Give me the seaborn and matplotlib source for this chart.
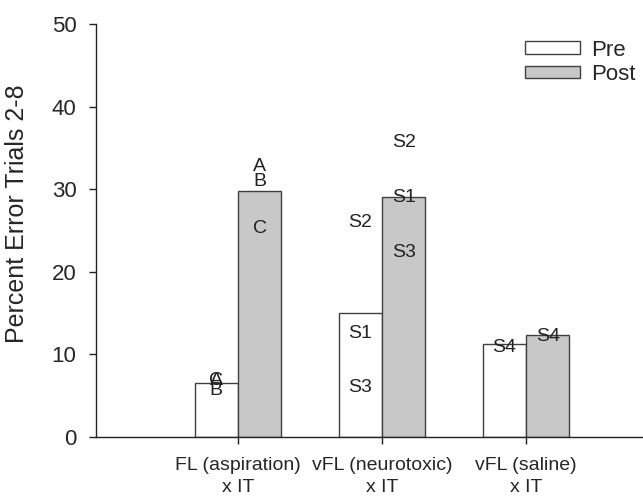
import pandas as pd
import matplotlib
matplotlib.use('Agg')
import matplotlib.pyplot as plt
import seaborn as sns

# Bar values
groups = ['FL (aspiration)\nx IT', 'vFL (neurotoxic)\nx IT', 'vFL (saline)\nx IT']
phases = ['Pre', 'Post']
pre_values = [6.5, 15.0, 11.3]
post_values = [29.8, 29.1, 12.4]

# Subject labels written over the bars
label_group = [0, 0, 0, 0, 0, 0, 1, 1, 1, 1, 1, 1, 2, 2]
label_phase = ['Pre', 'Pre', 'Pre', 'Post', 'Post', 'Post',
               'Pre', 'Pre', 'Pre', 'Post', 'Post', 'Post', 'Pre', 'Post']
label_value = [6.9, 6.9, 5.6, 32.7, 30.9, 25.3,
               26.0, 12.6, 6.05, 35.7, 29.0, 22.4, 10.9, 12.2]
label_text = ['C', 'A', 'B', 'A', 'B', 'C',
              'S2', 'S1', 'S3', 'S2', 'S1', 'S3', 'S4', 'S4']

df = pd.DataFrame({
    'group': groups * 2,
    'phase': ['Pre'] * 3 + ['Post'] * 3,
    'value': pre_values + post_values,
})

sns.set_style('ticks')
plt.rcParams['font.family'] = ['Liberation Sans', 'DejaVu Sans']

fig = plt.figure(figsize=(6.43, 4.99), dpi=100)
ax = fig.add_axes([0.149, 0.124, 0.851, 0.828])

sns.barplot(data=df, x='group', y='value', hue='phase', order=groups, hue_order=phases,
            palette={'Pre': 'white', 'Post': '#c8c8c8'}, width=0.6, errorbar=None,
            edgecolor='#404040', linewidth=1.0, ax=ax)

# subject labels
offsets = {'Pre': -0.15, 'Post': 0.15}
for g, p, v, t in zip(label_group, label_phase, label_value, label_text):
    ax.text(g + offsets[p], v, t, ha='center', va='center', fontsize=14, color='#222222')

ax.set_xlim(-0.986, 2.81)
ax.set_ylim(0, 50)
ax.set_yticks([0, 10, 20, 30, 40, 50])
ax.tick_params(axis='y', labelsize=16, length=5, width=1, pad=9, color='#222222')
ax.tick_params(axis='x', labelsize=14, length=5, width=1, pad=9, color='#222222')
for lbl in ax.get_xticklabels():
    lbl.set_linespacing(1.45)
ax.set_xlabel('')
ax.set_ylabel('Percent Error Trials 2-8', fontsize=18)
ax.yaxis.set_label_coords(-0.122, 0.54)
sns.despine(ax=ax)
for s in ['left', 'bottom']:
    ax.spines[s].set_color('#222222')
    ax.spines[s].set_linewidth(1.0)

leg = ax.legend(loc='upper left', bbox_to_anchor=(0.784, 0.962), frameon=False, fontsize=16,
                handlelength=2.5, handleheight=0.5, handletextpad=0.5, labelspacing=0.15,
                borderpad=0, borderaxespad=0)

fig.savefig('out.png', dpi=100)
